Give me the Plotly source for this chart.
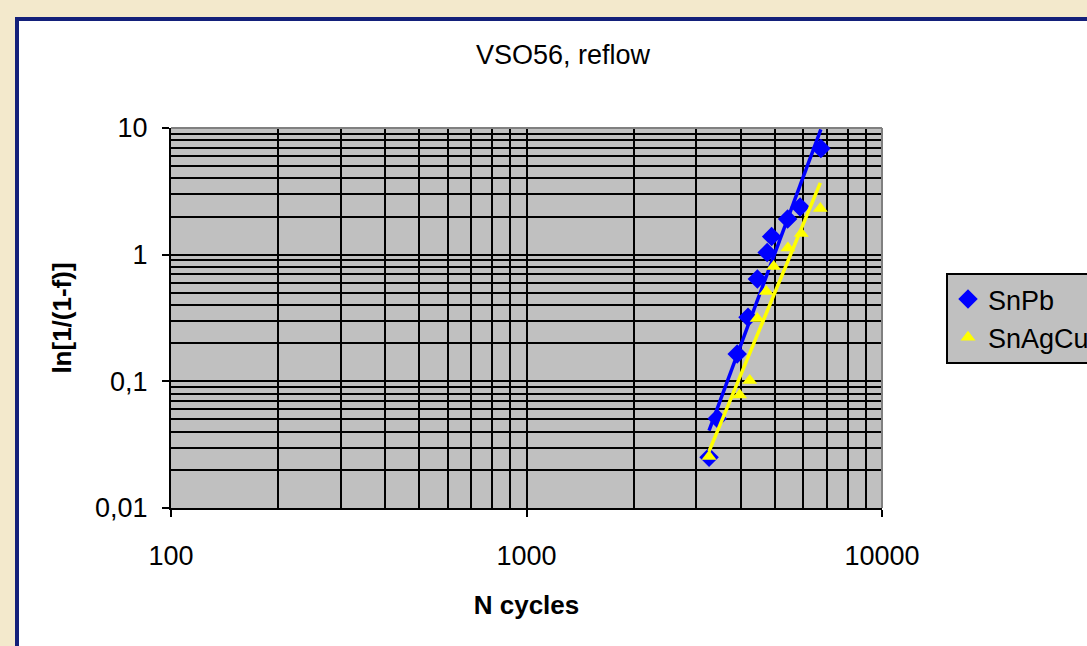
import numpy as np
import plotly.graph_objects as go

# Weibull plot data: cycles to failure and ln[1/(1-f)]
snpb_cycles = [3262, 3440, 3914, 4198, 4461, 4753, 4893, 5427, 5885, 6731]
snpb_lnf = [0.0252, 0.0509, 0.164, 0.321, 0.643, 1.04, 1.39, 1.91, 2.38, 6.89]

snagcu_cycles = [3262, 3979, 4245, 4456, 4727, 4957, 5437, 5930, 6706]
snagcu_lnf = [0.0255, 0.0781, 0.1016, 0.3135, 0.512, 0.807, 1.129, 1.47, 2.315]

y_tickvals = [0.01, 0.1, 1, 10]
y_ticktext = ["0,01", "0,1", "1", "10"]
x_tickvals = [100, 1000, 10000]
x_ticktext = ["100", "1000", "10000"]

W, H = 1087, 646
ML, MR, MT, MB = 171, 205, 128, 138
PW, PH = W - ML - MR, H - MT - MB


def px(x):
    return (x - ML) / PW


def py(y):
    return 1 - (y - MT) / PH


def power_fit(x, y):
    # least squares in log-log space (power-law trendline)
    lx, ly = np.log10(x), np.log10(y)
    b, a = np.polyfit(lx, ly, 1)
    xs = np.logspace(lx.min(), lx.max(), 50)
    return xs, 10 ** (a + b * np.log10(xs))


font = "Liberation Sans, Arial, sans-serif"
fig = go.Figure()

fx, fy = power_fit(np.array(snpb_cycles), np.array(snpb_lnf))
gx, gy = power_fit(np.array(snagcu_cycles), np.array(snagcu_lnf))

fig.add_trace(go.Scatter(x=snpb_cycles, y=snpb_lnf, mode="markers", name="SnPb",
                         marker=dict(symbol="diamond", size=15, color="#0000ff")))
fig.add_trace(go.Scatter(x=fx, y=fy, mode="lines", showlegend=False,
                         line=dict(color="#0000ff", width=3.5), hoverinfo="skip"))
fig.add_trace(go.Scatter(x=snagcu_cycles, y=snagcu_lnf, mode="markers", name="SnAgCu",
                         marker=dict(symbol="triangle-up", size=13, color="#ffff00")))
fig.add_trace(go.Scatter(x=gx, y=gy, mode="lines", showlegend=False,
                         line=dict(color="#ffff00", width=3.5), hoverinfo="skip"))

minor_x = [m * d for d in (100, 1000) for m in range(2, 10)]
minor_y = [m * d for d in (0.01, 0.1, 1) for m in range(2, 10)]

fig.update_xaxes(type="log", range=[2, 4], tickvals=x_tickvals, ticktext=x_ticktext,
                 showgrid=True, gridcolor="black", gridwidth=2,
                 minor=dict(tickvals=minor_x, showgrid=True, gridcolor="black", gridwidth=1.5, ticks=""),
                 ticks="outside", ticklen=7, tickwidth=2, tickcolor="black",
                 showline=True, linecolor="black", linewidth=2, zeroline=False,
                 ticklabelstandoff=16,
                 tickfont=dict(family=font, size=27, color="black"),
                 title=dict(text="<b>N cycles</b>", font=dict(family=font, size=26, color="black"),
                            standoff=25))
fig.update_yaxes(type="log", range=[-2, 1], tickvals=y_tickvals, ticktext=y_ticktext,
                 showgrid=True, gridcolor="black", gridwidth=2,
                 minor=dict(tickvals=minor_y, showgrid=True, gridcolor="black", gridwidth=1.5, ticks=""),
                 ticks="outside", ticklen=7, tickwidth=2, tickcolor="black",
                 showline=True, linecolor="black", linewidth=2, zeroline=False,
                 ticklabelstandoff=9,
                 tickfont=dict(family=font, size=27, color="black"),
                 title=dict(text="<b>ln[1/(1-f)]</b>", font=dict(family=font, size=26, color="black"),
                            standoff=16))

shapes = [
    # slide background strips
    dict(type="rect", xref="paper", yref="paper", x0=px(0), x1=px(W), y0=py(0), y1=py(17),
         fillcolor="#f3e9cc", line=dict(width=0), layer="below"),
    dict(type="rect", xref="paper", yref="paper", x0=px(0), x1=px(15), y0=py(0), y1=py(H),
         fillcolor="#f3e9cc", line=dict(width=0), layer="below"),
    # chart frame
    dict(type="line", xref="paper", yref="paper", x0=px(15), x1=px(W), y0=py(19), y1=py(19),
         line=dict(color="#13207a", width=4), layer="below"),
    dict(type="line", xref="paper", yref="paper", x0=px(17), x1=px(17), y0=py(17), y1=py(H),
         line=dict(color="#13207a", width=4), layer="below"),
    # plot area border (top and right)
    dict(type="line", xref="paper", yref="paper", x0=0, x1=1, y0=1, y1=1,
         line=dict(color="#808080", width=2)),
    dict(type="line", xref="paper", yref="paper", x0=1, x1=1, y0=0, y1=1,
         line=dict(color="#808080", width=2)),
]

fig.update_layout(
    width=W, height=H,
    margin=dict(l=ML, r=MR, t=MT, b=MB, autoexpand=False),
    paper_bgcolor="white", plot_bgcolor="#c0c0c0",
    title=dict(text="VSO56, reflow", x=563 / W, xanchor="center", y=1 - 55 / H, yanchor="middle",
               font=dict(family=font, size=27, color="black")),
    legend=dict(x=px(946), y=py(273), xanchor="left", yanchor="top",
                bgcolor="#c0c0c0", bordercolor="black", borderwidth=2,
                font=dict(family=font, size=27, color="black")),
    shapes=shapes,
    showlegend=True,
)

fig.write_html("out.html")
